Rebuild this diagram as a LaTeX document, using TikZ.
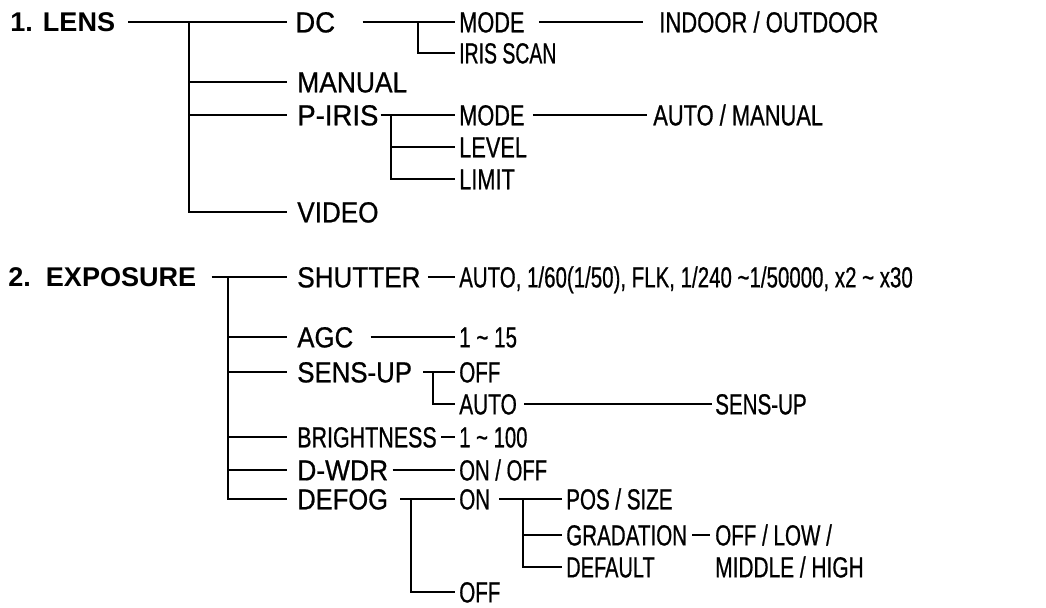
\documentclass[tikz,border=0pt]{standalone}
\usepackage{fontspec}
\setmainfont{Liberation Sans}
\newfontfamily\menufont{Liberation Sans}[FakeBold=0.8]
\usepackage{tikz}
\usetikzlibrary{calc}
\newcommand\lblfont{\menufont\fontsize{16.5}{19}\selectfont}
\newcommand\headfont{\fontsize{15.4}{18}\selectfont\bfseries}
\tikzset{
    menutree/.style={x=0.02cm, y=-0.02cm},
    head/.style={anchor=west, inner sep=0pt, font=\headfont, text height=11pt, text depth=0pt},
    % the printed labels are squeezed sideways, each by its own amount
    lbl/.style={anchor=west, inner sep=0pt, font=\lblfont, text height=11.8pt, text depth=0pt, xscale=#1},
    lbl/.default=0.72,
    tree/.style={line width=1.1pt, shorten >=2.3pt},
    firstlevel/.style={tree, shorten >=5.7pt},
}
\begin{document}
\begin{tikzpicture}[menutree]
    \useasboundingbox (0,0) rectangle (1046,608);

    % 1. LENS
    \node[head] (lens) at (10,22) {1. LENS};
    \node[lbl=0.95] (dc) at (295,22) {DC};
    \node[lbl=0.75] (dcmode) at (459,22) {MODE};
    \node[lbl=0.76] (indoor) at (659,22) {INDOOR / OUTDOOR};
    \node[lbl=0.67] (iris) at (459,53) {IRIS SCAN};
    \node[lbl=0.91] (manual) at (297,82) {MANUAL};
    \node[lbl=0.95] (piris) at (297,115) {P-IRIS};
    \node[lbl=0.75] (pmode) at (459,115) {MODE};
    \node[lbl=0.755] (automan) at (653,115) {AUTO / MANUAL};
    \node[lbl=0.75] (level) at (459,147) {LEVEL};
    \node[lbl=0.75] (limit) at (459,179) {LIMIT};
    \node[lbl=0.90] (video) at (297,212) {VIDEO};

    \draw[tree, shorten <=7.4pt, shorten >=4.6pt] (lens.east) -- (dc.west);
    \coordinate (lensbus) at (189,22);
    \draw[firstlevel] (lensbus) |- (video.west);
    \draw[firstlevel] (lensbus |- manual.west) -- (manual.west);
    \draw[firstlevel] (lensbus |- piris.west) -- (piris.west);

    \draw[tree, shorten <=15.4pt] (dc.east) -- (dcmode.west);
    \coordinate (dcbus) at (418,22);
    \draw[tree] (dcbus) |- (iris.west);
    \draw[tree, shorten <=8pt, shorten >=9.1pt] (dcmode.east) -- (indoor.west);

    \draw[tree, shorten <=1.1pt] (piris.east) -- (pmode.west);
    \coordinate (pbus) at (391,115);
    \draw[tree] (pbus) |- (limit.west);
    \draw[tree] (pbus |- level.west) -- (level.west);
    \draw[tree, shorten <=4.6pt, shorten >=3.4pt] (pmode.east) -- (automan.west);

    % 2. EXPOSURE
    \node[head] (expo) at (8,277) {2.\ \ EXPOSURE};
    \node[lbl=0.90] (shutter) at (297,277) {SHUTTER};
    \node[lbl=0.706] (shutval) at (459,277) {AUTO, 1/60(1/50), FLK, 1/240 \char`~1/50000, x2 \char`~{} x30};
    \node[lbl=0.89] (agc) at (297,337) {AGC};
    \node[lbl=0.71] (agcval) at (459,337) {1 \char`~{} 15};
    \node[lbl=0.89] (sensup) at (297,372) {SENS-UP};
    \node[lbl=0.71] (suoff) at (459,372) {OFF};
    \node[lbl=0.72] (suauto) at (459,404) {AUTO};
    \node[lbl=0.71] (suval) at (715,404) {SENS-UP};
    \node[lbl=0.74] (bright) at (297,437) {BRIGHTNESS};
    \node[lbl=0.70] (brval) at (459,437) {1 \char`~{} 100};
    \node[lbl=0.91] (dwdr) at (297,470) {D-WDR};
    \node[lbl=0.70] (dwval) at (459,470) {ON / OFF};
    \node[lbl=0.88] (defog) at (297,499) {DEFOG};
    \node[lbl=0.71] (dfon) at (459,499) {ON};
    \node[lbl=0.71] (dfoff) at (459,592) {OFF};
    \node[lbl=0.71] (pos) at (566,499) {POS / SIZE};
    \node[lbl=0.71] (grad) at (566,535) {GRADATION};
    \node[lbl=0.69] (dfdef) at (566,567) {DEFAULT};
    \node[lbl=0.71] (gradval) at (715,535) {OFF / LOW /};
    \node[lbl=0.72] (gradval2) at (715,567) {MIDDLE / HIGH};

    \draw[tree, shorten <=8.5pt, shorten >=5.7pt] (expo.east) -- (shutter.west);
    \coordinate (expbus) at (228,277);
    \draw[firstlevel] (expbus) |- (defog.west);
    \foreach \n in {agc, sensup, bright, dwdr}
        \draw[firstlevel] (expbus |- \n.west) -- (\n.west);

    \draw[tree, shorten <=4pt] (shutter.east) -- (shutval.west);
    \draw[tree, shorten <=9.7pt] (agc.east) -- (agcval.west);
    \draw[tree, shorten <=6.3pt] (sensup.east) -- (suoff.west);
    \coordinate (subus) at (433,372);
    \draw[tree] (subus) |- (suauto.west);
    \draw[tree, shorten <=4pt, shorten >=1.7pt] (suauto.east) -- (suval.west);
    \draw[tree, shorten <=2.3pt] (bright.east) -- (brval.west);
    \draw[tree, shorten <=2.3pt] (dwdr.east) -- (dwval.west);

    \draw[tree, shorten <=6.8pt] (defog.east) -- (dfon.west);
    \coordinate (dfbus) at (411,499);
    \draw[tree] (dfbus) |- (dfoff.west);
    \draw[tree, shorten <=5.1pt] (dfon.east) -- (pos.west);
    \coordinate (onbus) at (523,499);
    \draw[tree] (onbus) |- (dfdef.west);
    \draw[tree] (onbus |- grad.west) -- (grad.west);
    \draw[tree, shorten <=2.8pt, shorten >=2.8pt] (grad.east) -- (gradval.west);
\end{tikzpicture}
\end{document}
